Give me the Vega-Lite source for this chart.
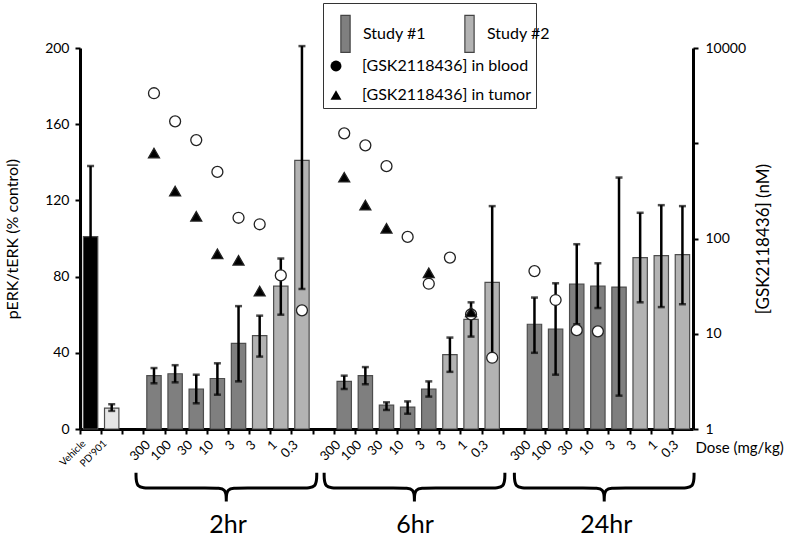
{
  "$schema": "https://vega.github.io/schema/vega-lite/v6.json",
  "width": 613,
  "height": 381,
  "padding": {"left": 4, "top": 2, "right": 0, "bottom": 0},
  "background": "white",
  "config": {
    "font": "Lato",
    "view": {"stroke": null},
    "axis": {"labelColor": "black", "titleColor": "black", "domainColor": "black", "tickColor": "black", "labelFont": "Lato", "titleFont": "Lato", "titleFontWeight": "normal", "grid": false, "labelOverlap": false},
    "legend": {"labelFont": "Lato", "titleFont": "Lato", "labelColor": "black"}
  },
  "datasets": {
    "bars": [
      {"cat": "Vehicle", "series": "Vehicle", "v": 101, "lo": 64, "hi": 138},
      {"cat": "PD'901", "series": "PD'901", "v": 11, "lo": 9.5, "hi": 13},
      {"cat": "2hr|300", "series": "Study #1", "v": 28, "lo": 24, "hi": 32},
      {"cat": "2hr|100", "series": "Study #1", "v": 29, "lo": 24.5, "hi": 33.5},
      {"cat": "2hr|30", "series": "Study #1", "v": 21, "lo": 13.5, "hi": 28.5},
      {"cat": "2hr|10", "series": "Study #1", "v": 26.5, "lo": 18, "hi": 34.5},
      {"cat": "2hr|3|a", "series": "Study #1", "v": 45, "lo": 25, "hi": 64.5},
      {"cat": "2hr|3|b", "series": "Study #2", "v": 49, "lo": 38, "hi": 59.5},
      {"cat": "2hr|1", "series": "Study #2", "v": 75, "lo": 60, "hi": 89.5},
      {"cat": "2hr|0.3", "series": "Study #2", "v": 141, "lo": 73.5, "hi": 201},
      {"cat": "6hr|300", "series": "Study #1", "v": 25, "lo": 21, "hi": 28},
      {"cat": "6hr|100", "series": "Study #1", "v": 28, "lo": 23.5, "hi": 32.5},
      {"cat": "6hr|30", "series": "Study #1", "v": 12.5, "lo": 10, "hi": 14},
      {"cat": "6hr|10", "series": "Study #1", "v": 11.5, "lo": 8, "hi": 14.5},
      {"cat": "6hr|3|a", "series": "Study #1", "v": 21, "lo": 17, "hi": 25},
      {"cat": "6hr|3|b", "series": "Study #2", "v": 39, "lo": 30, "hi": 48},
      {"cat": "6hr|1", "series": "Study #2", "v": 57.5, "lo": 48.5, "hi": 66.5},
      {"cat": "6hr|0.3", "series": "Study #2", "v": 77, "lo": 37.5, "hi": 117},
      {"cat": "24hr|300", "series": "Study #1", "v": 55, "lo": 40, "hi": 69},
      {"cat": "24hr|100", "series": "Study #1", "v": 52.5, "lo": 28.5, "hi": 76.5},
      {"cat": "24hr|30", "series": "Study #1", "v": 76, "lo": 55, "hi": 97},
      {"cat": "24hr|10", "series": "Study #1", "v": 75, "lo": 63.5, "hi": 87},
      {"cat": "24hr|3|a", "series": "Study #1", "v": 74.5, "lo": 17.5, "hi": 132},
      {"cat": "24hr|3|b", "series": "Study #2", "v": 90, "lo": 66.5, "hi": 113.5},
      {"cat": "24hr|1", "series": "Study #2", "v": 91, "lo": 64, "hi": 117.5},
      {"cat": "24hr|0.3", "series": "Study #2", "v": 91.5, "lo": 65.5, "hi": 117}
    ],
    "markers": [
      {"cat": "2hr|300", "marker": "[GSK2118436] in blood", "c": 3350},
      {"cat": "2hr|100", "marker": "[GSK2118436] in blood", "c": 1700},
      {"cat": "2hr|30", "marker": "[GSK2118436] in blood", "c": 1080},
      {"cat": "2hr|10", "marker": "[GSK2118436] in blood", "c": 500},
      {"cat": "2hr|3|a", "marker": "[GSK2118436] in blood", "c": 165},
      {"cat": "2hr|3|b", "marker": "[GSK2118436] in blood", "c": 141},
      {"cat": "2hr|1", "marker": "[GSK2118436] in blood", "c": 41},
      {"cat": "2hr|0.3", "marker": "[GSK2118436] in blood", "c": 17.6},
      {"cat": "6hr|300", "marker": "[GSK2118436] in blood", "c": 1270},
      {"cat": "6hr|100", "marker": "[GSK2118436] in blood", "c": 950},
      {"cat": "6hr|30", "marker": "[GSK2118436] in blood", "c": 575},
      {"cat": "6hr|10", "marker": "[GSK2118436] in blood", "c": 104},
      {"cat": "6hr|3|a", "marker": "[GSK2118436] in blood", "c": 33.5},
      {"cat": "6hr|3|b", "marker": "[GSK2118436] in blood", "c": 63},
      {"cat": "6hr|1", "marker": "[GSK2118436] in blood", "c": 16},
      {"cat": "6hr|0.3", "marker": "[GSK2118436] in blood", "c": 5.6},
      {"cat": "24hr|300", "marker": "[GSK2118436] in blood", "c": 45.5},
      {"cat": "24hr|100", "marker": "[GSK2118436] in blood", "c": 22.6},
      {"cat": "24hr|30", "marker": "[GSK2118436] in blood", "c": 10.9},
      {"cat": "24hr|10", "marker": "[GSK2118436] in blood", "c": 10.6},
      {"cat": "2hr|300", "marker": "[GSK2118436] in tumor", "c": 790},
      {"cat": "2hr|100", "marker": "[GSK2118436] in tumor", "c": 314},
      {"cat": "2hr|30", "marker": "[GSK2118436] in tumor", "c": 171},
      {"cat": "2hr|10", "marker": "[GSK2118436] in tumor", "c": 69},
      {"cat": "2hr|3|a", "marker": "[GSK2118436] in tumor", "c": 59},
      {"cat": "2hr|3|b", "marker": "[GSK2118436] in tumor", "c": 28},
      {"cat": "6hr|300", "marker": "[GSK2118436] in tumor", "c": 440},
      {"cat": "6hr|100", "marker": "[GSK2118436] in tumor", "c": 224},
      {"cat": "6hr|30", "marker": "[GSK2118436] in tumor", "c": 128},
      {"cat": "6hr|3|a", "marker": "[GSK2118436] in tumor", "c": 43.6},
      {"cat": "6hr|1", "marker": "[GSK2118436] in tumor", "c": 17}
    ],
    "braces": [
      {"g": "2hr", "i": 0, "bx": 2.65, "by": -23}, {"g": "2hr", "i": 1, "bx": 2.65, "by": -23}, {"g": "2hr", "i": 2, "bx": 2.65, "by": -23},
      {"g": "2hr", "i": 3, "bx": 2.65, "by": -31}, {"g": "2hr", "i": 4, "bx": 3.25, "by": -31}, {"g": "2hr", "i": 5, "bx": 6.32, "by": -31},
      {"g": "2hr", "i": 6, "bx": 6.92, "by": -31}, {"g": "2hr", "i": 7, "bx": 6.92, "by": -38}, {"g": "2hr", "i": 8, "bx": 6.92, "by": -38},
      {"g": "2hr", "i": 9, "bx": 6.92, "by": -38}, {"g": "2hr", "i": 10, "bx": 6.92, "by": -31}, {"g": "2hr", "i": 11, "bx": 7.52, "by": -31},
      {"g": "2hr", "i": 12, "bx": 10.6, "by": -31}, {"g": "2hr", "i": 13, "bx": 11.2, "by": -31}, {"g": "2hr", "i": 14, "bx": 11.2, "by": -23},
      {"g": "2hr", "i": 15, "bx": 11.2, "by": -23}, {"g": "2hr", "i": 16, "bx": 11.2, "by": -23},
      {"g": "6hr", "i": 0, "bx": 11.55, "by": -23}, {"g": "6hr", "i": 1, "bx": 11.55, "by": -23}, {"g": "6hr", "i": 2, "bx": 11.55, "by": -23},
      {"g": "6hr", "i": 3, "bx": 11.55, "by": -31}, {"g": "6hr", "i": 4, "bx": 12.15, "by": -31}, {"g": "6hr", "i": 5, "bx": 15.22, "by": -31},
      {"g": "6hr", "i": 6, "bx": 15.82, "by": -31}, {"g": "6hr", "i": 7, "bx": 15.82, "by": -38}, {"g": "6hr", "i": 8, "bx": 15.82, "by": -38},
      {"g": "6hr", "i": 9, "bx": 15.82, "by": -38}, {"g": "6hr", "i": 10, "bx": 15.82, "by": -31}, {"g": "6hr", "i": 11, "bx": 16.42, "by": -31},
      {"g": "6hr", "i": 12, "bx": 19.5, "by": -31}, {"g": "6hr", "i": 13, "bx": 20.1, "by": -31}, {"g": "6hr", "i": 14, "bx": 20.1, "by": -23},
      {"g": "6hr", "i": 15, "bx": 20.1, "by": -23}, {"g": "6hr", "i": 16, "bx": 20.1, "by": -23},
      {"g": "24hr", "i": 0, "bx": 20.55, "by": -23}, {"g": "24hr", "i": 1, "bx": 20.55, "by": -23}, {"g": "24hr", "i": 2, "bx": 20.55, "by": -23},
      {"g": "24hr", "i": 3, "bx": 20.55, "by": -31}, {"g": "24hr", "i": 4, "bx": 21.15, "by": -31}, {"g": "24hr", "i": 5, "bx": 24.2, "by": -31},
      {"g": "24hr", "i": 6, "bx": 24.8, "by": -31}, {"g": "24hr", "i": 7, "bx": 24.8, "by": -38}, {"g": "24hr", "i": 8, "bx": 24.8, "by": -38},
      {"g": "24hr", "i": 9, "bx": 24.8, "by": -38}, {"g": "24hr", "i": 10, "bx": 24.8, "by": -31}, {"g": "24hr", "i": 11, "bx": 25.4, "by": -31},
      {"g": "24hr", "i": 12, "bx": 28.45, "by": -31}, {"g": "24hr", "i": 13, "bx": 29.05, "by": -31}, {"g": "24hr", "i": 14, "bx": 29.05, "by": -23},
      {"g": "24hr", "i": 15, "bx": 29.05, "by": -23}, {"g": "24hr", "i": 16, "bx": 29.05, "by": -23}
    ],
    "groups": [
      {"g": "2hr", "gx": 7.0},
      {"g": "6hr", "gx": 15.85},
      {"g": "24hr", "gx": 24.9}
    ]
  },
  "layer": [
    {
      "data": {"name": "bars"},
      "layer": [
        {
          "mark": {"type": "bar", "stroke": "#4d4d4d", "strokeWidth": 1.2},
          "encoding": {
            "x": {
              "field": "cat", "type": "nominal",
              "scale": {"domain": ["Vehicle","PD'901","gap1","2hr|300","2hr|100","2hr|30","2hr|10","2hr|3|a","2hr|3|b","2hr|1","2hr|0.3","gap2","6hr|300","6hr|100","6hr|30","6hr|10","6hr|3|a","6hr|3|b","6hr|1","6hr|0.3","gap3","24hr|300","24hr|100","24hr|30","24hr|10","24hr|3|a","24hr|3|b","24hr|1","24hr|0.3"], "paddingInner": 0.32, "paddingOuter": 0.16},
              "axis": {
                "orient": "bottom",
                "labelAngle": -45,
                "labelExpr": "indexof(datum.value,'gap')==0 ? '' : (indexof(datum.value,'|')>0 ? split(datum.value,'|')[1] : datum.value)",
                "labelFontSize": {"condition": {"test": "indexof(datum.value,'|')<0", "value": 10}, "value": 13},
                "labelPadding": 4,
                "domainWidth": 3,
                "tickWidth": 2,
                "tickSize": 5,
                "tickOffset": -10.57,
                "title": "Dose (mg/kg)",
                "titleFontSize": 15,
                "titleX": 615,
                "titleY": 18,
                "titleAlign": "left",
                "titleBaseline": "middle",
                "titleAngle": 0
              }
            },
            "y": {
              "field": "v", "type": "quantitative",
              "scale": {"domain": [0, 200], "nice": false},
              "axis": {"orient": "left", "values": [0,20,40,60,80,100,120,140,160,180,200], "tickCount": 10, "format": "d", "labelOverlap": false, "labelFontSize": 14, "labelPadding": 6, "tickSize": 5, "tickWidth": 2, "domainWidth": 3, "title": "pERK/tERK (% control)", "titleFontSize": 16, "titlePadding": 24}
            },
            "fill": {
              "field": "series", "type": "nominal",
              "scale": {"domain": ["Vehicle","PD'901","Study #1","Study #2"], "range": ["#000000","#e6e6e6","#7f7f7f","#b3b3b3"]},
              "legend": {"values": ["Study #1","Study #2"], "orient": "none", "legendX": 246, "legendY": -34, "direction": "horizontal", "title": null, "symbolType": "M-0.25,-1H0.25V1H-0.25Z", "symbolSize": 1369, "symbolStrokeColor": "#444", "symbolStrokeWidth": 1.2, "labelFontSize": 16, "labelOffset": -2, "columnPadding": 24, "padding": 0}
            }
          }
        },
        {
          "mark": {"type": "rule", "color": "black", "strokeWidth": 2.5},
          "encoding": {
            "x": {"field": "cat", "type": "nominal"},
            "y": {"field": "lo", "type": "quantitative",
              "axis": {"orient": "left", "values": [0,20,40,60,80,100,120,140,160,180,200], "tickCount": 10, "format": "d", "labelOverlap": false, "labelFontSize": 14, "labelPadding": 6, "tickSize": 5, "tickWidth": 2, "domainWidth": 3, "title": "pERK/tERK (% control)", "titleFontSize": 16, "titlePadding": 24}},
            "y2": {"field": "hi"}
          }
        },
        {
          "mark": {"type": "tick", "color": "black", "thickness": 2.5, "size": 7},
          "encoding": {
            "x": {"field": "cat", "type": "nominal"},
            "y": {"field": "hi", "type": "quantitative",
              "axis": {"orient": "left", "values": [0,20,40,60,80,100,120,140,160,180,200], "tickCount": 10, "format": "d", "labelOverlap": false, "labelFontSize": 14, "labelPadding": 6, "tickSize": 5, "tickWidth": 2, "domainWidth": 3, "title": "pERK/tERK (% control)", "titleFontSize": 16, "titlePadding": 24}}
          }
        },
        {
          "mark": {"type": "tick", "color": "black", "thickness": 2.5, "size": 7},
          "encoding": {
            "x": {"field": "cat", "type": "nominal"},
            "y": {"field": "lo", "type": "quantitative",
              "axis": {"orient": "left", "values": [0,20,40,60,80,100,120,140,160,180,200], "tickCount": 10, "format": "d", "labelOverlap": false, "labelFontSize": 14, "labelPadding": 6, "tickSize": 5, "tickWidth": 2, "domainWidth": 3, "title": "pERK/tERK (% control)", "titleFontSize": 16, "titlePadding": 24}}
          }
        }
      ]
    },
    {
      "data": {"name": "markers"},
      "mark": {"type": "point", "filled": true, "stroke": "#222", "strokeWidth": 1.3, "size": 120, "opacity": 1},
      "encoding": {
        "x": {
          "field": "cat", "type": "nominal",
          "scale": {"domain": ["Vehicle","PD'901","gap1","2hr|300","2hr|100","2hr|30","2hr|10","2hr|3|a","2hr|3|b","2hr|1","2hr|0.3","gap2","6hr|300","6hr|100","6hr|30","6hr|10","6hr|3|a","6hr|3|b","6hr|1","6hr|0.3","gap3","24hr|300","24hr|100","24hr|30","24hr|10","24hr|3|a","24hr|3|b","24hr|1","24hr|0.3"], "paddingInner": 0.32, "paddingOuter": 0.16},
          "axis": null
        },
        "y": {
          "field": "c", "type": "quantitative",
          "scale": {"type": "log", "domain": [1, 10000], "nice": false},
          "axis": {"orient": "right", "values": [1,10,100,1000,10000], "labelExpr": "datum.value == 1000 ? '' : format(datum.value, 'd')", "labelFontSize": 14, "labelPadding": 7, "tickSize": 5, "tickWidth": 2, "domainWidth": 3, "title": "[GSK2118436] (nM)", "titleFontSize": 17, "titleAngle": 270, "titlePadding": 27}
        },
        "shape": {
          "field": "marker", "type": "nominal",
          "scale": {"domain": ["[GSK2118436] in blood","[GSK2118436] in tumor"], "range": ["circle","triangle-up"]},
          "legend": {
            "orient": "none", "legendX": 243, "legendY": -45, "direction": "vertical",
            "title": "\u2003\u2003\u2003\u2003\u2003\u2003\u2003", "titleFontSize": 40, "titleLimit": 600, "titlePadding": 10,
            "strokeColor": "#333", "padding": 5, "labelFontSize": 16, "labelLimit": 400, "labelOffset": 18, "rowPadding": 12,
            "symbolSize": 120, "symbolStrokeColor": "#222", "symbolStrokeWidth": 1.3
          }
        },
        "fill": {
          "field": "marker", "type": "nominal",
          "scale": {"domain": ["[GSK2118436] in blood","[GSK2118436] in tumor"], "range": ["#ffffff","#000000"]},
          "legend": null
        }
      }
    },
    {
      "layer": [
        {
          "data": {"name": "braces"},
          "mark": {"type": "line", "interpolate": "basis", "color": "black", "strokeWidth": 3},
          "encoding": {
            "x": {"field": "bx", "type": "quantitative", "scale": {"domain": [0, 29], "nice": false, "zero": false}, "axis": null},
            "y": {"field": "by", "type": "quantitative", "scale": {"domain": [0, 200], "nice": false}, "axis": null},
            "detail": {"field": "g", "type": "nominal"},
            "order": {"field": "i", "type": "quantitative"}
          }
        },
        {
          "data": {"name": "groups"},
          "mark": {"type": "text", "fontSize": 25, "font": "Lato", "color": "black", "align": "center", "baseline": "middle"},
          "encoding": {
            "x": {"field": "gx", "type": "quantitative"},
            "y": {"datum": -50.2, "type": "quantitative"},
            "text": {"field": "g", "type": "nominal"}
          }
        }
      ]
    }
  ],
  "resolve": {"scale": {"x": "independent", "y": "independent", "fill": "independent"}}
}
